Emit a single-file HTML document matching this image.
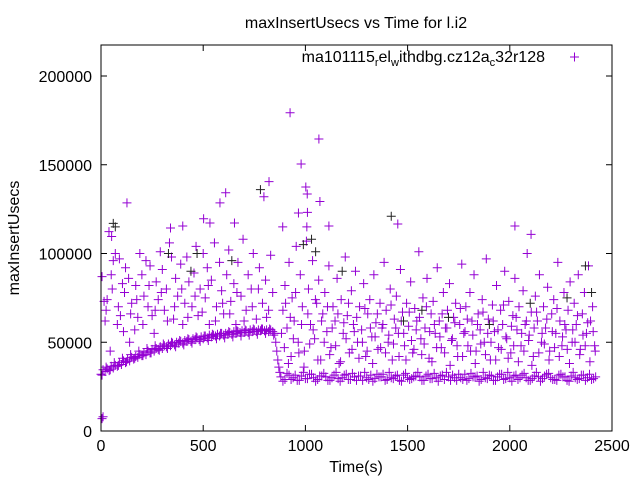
<!DOCTYPE html>
<html><head><meta charset="utf-8"><style>
html,body{margin:0;padding:0;background:#fff;}
svg text{font-family:"Liberation Sans",sans-serif;fill:#000;}
</style></head><body>
<svg id="chart" width="640" height="480" viewBox="0 0 640 480" xmlns="http://www.w3.org/2000/svg">
<rect width="640" height="480" fill="#fff"/>
<text x="356" y="28" font-size="16" text-anchor="middle">maxInsertUsecs vs Time for l.i2</text>
<g id="grid"></g>
<g id="marks"></g>
<rect x="101" y="45" width="511" height="386" fill="none" stroke="#000" stroke-width="1"/>
<text x="545" y="62" font-size="16" text-anchor="end">ma101115<tspan font-size="11" dy="4">r</tspan><tspan dy="-4">el</tspan><tspan font-size="11" dy="4">w</tspan><tspan dy="-4">ithdbg.cz12a</tspan><tspan font-size="11" dy="4">c</tspan><tspan dy="-4">32r128</tspan></text>
<g stroke="#9400d3" stroke-width="1"><line x1="570" y1="57" x2="579" y2="57"/><line x1="574.5" y1="52.5" x2="574.5" y2="61.5"/></g>
<text x="356" y="472" font-size="16" text-anchor="middle">Time(s)</text>
<text x="0" y="0" font-size="16" text-anchor="middle" transform="translate(19,238) rotate(-90)">maxInsertUsecs</text>
</svg>
<script>
const xTicks = [0, 500, 1000, 1500, 2000, 2500];
const yTicks = [0, 50000, 100000, 150000, 200000];
const rampTimes = [0,10,20,30,40,50,60,70,80,90,100,110,120,130,140,150,160,170,180,190,200,210,220,230,240,250,260,270,280,290,300,310,320,330,340,350,360,370,380,390,400,410,420,430,440,450,460,470,480,490,500,510,520,530,540,550,560,570,580,590,600,610,620,630,640,650,660,670,680,690,700,710,720,730,740,750,760,770,780,790,800,810,820,830,840,850,855,860,865,870,875];
const rampValues = [32000,34500,33500,35000,34000,36500,35500,37000,36500,38500,37500,39500,38500,40500,39500,41500,40500,42000,41500,43000,42500,44000,43000,45000,44000,46000,45000,46500,46000,47500,46500,48000,47500,49000,48000,49500,48500,50000,49500,50500,49500,51000,50500,51500,50500,52000,51500,52500,51500,53000,52000,53500,52500,54000,53000,54000,53500,54500,53500,55000,54000,55000,54500,55500,54500,56000,55000,56000,55500,56500,55500,56500,55500,57000,56000,57000,56000,57000,56500,57500,56500,57000,56000,57000,56000,55000,50000,45000,40000,36000,33000];
const ramp2Times = [5,25,45,65,85,105,125,145,165,185,205,225,245,265,285,305,325,345,365,385,405,425,445,465,485,505,525,545,565,585,605,625,645,665,685,705,725,745,765,785,805,825,845];
const ramp2Values = [31500,36000,34500,38500,37000,41000,39000,43000,41000,45000,42500,46500,44000,48000,45500,49000,46500,50000,47500,51000,48500,52000,49500,53000,50500,53500,51000,54500,52000,55000,52500,56000,53000,56500,53500,57000,54000,57500,54500,57500,55000,57500,54000];
const flatTimes = [880,900,920,940,960,980,1000,1020,1040,1060,1080,1100,1120,1140,1160,1180,1200,1220,1240,1260,1280,1300,1320,1340,1360,1380,1400,1420,1440,1460,1480,1500,1520,1540,1560,1580,1600,1620,1640,1660,1680,1700,1720,1740,1760,1780,1800,1820,1840,1860,1880,1900,1920,1940,1960,1980,2000,2020,2040,2060,2080,2100,2120,2140,2160,2180,2200,2220,2240,2260,2280,2300,2320,2340,2360,2380,2400,2420];
const flatValues = [30500,29000,31500,30000,28500,31000,29500,32000,30000,29000,31000,30500,28500,31500,29500,30000,32000,29000,30500,31000,28500,30000,31500,29500,30500,32000,29000,30000,31000,28500,31500,30000,29500,31000,30500,28500,32000,29500,30000,31000,29000,30500,31500,28500,30000,32000,29500,30500,31000,29000,30000,31500,28500,30500,32000,29500,30000,31000,29000,31500,30000,28500,31000,30500,29500,32000,30000,29000,31500,30500,28500,31000,30000,29500,31500,30000,29000,30500];
const flat2Times = [890,910,930,950,970,990,1010,1030,1050,1070,1090,1110,1130,1150,1170,1190,1210,1230,1250,1270,1290,1310,1330,1350,1370,1390,1410,1430,1450,1470,1490,1510,1530,1550,1570,1590,1610,1630,1650,1670,1690,1710,1730,1750,1770,1790,1810,1830,1850,1870,1890,1910,1930,1950,1970,1990,2010,2030,2050,2070,2090,2110,2130,2150,2170,2190,2210,2230,2250,2270,2290,2310,2330,2350,2370,2390,2410];
const flat2Values = [28000,32500,29000,31500,28500,33000,29500,32000,28000,31000,32500,28500,30000,33000,28000,31500,29000,32500,28500,31000,33000,29000,28000,32000,30500,28500,33000,29500,31500,28000,32500,29000,30500,33000,28500,31000,29500,32500,28000,31500,33000,28500,30000,32000,29000,28500,32500,30500,28000,33000,29500,31000,28500,32000,29000,33000,28000,31500,30000,32500,28500,29500,33000,28000,31000,32500,29000,28500,32000,30500,28000,33000,29000,31500,28500,32000,29500];
const scatterTimes = [5,10,925,1066,979,1002,1009,1071,822,797,610,582,127,39,52,502,533,653,400,340,966,1010,1007,1115,889,1452,2025,2104,
5,15,20,30,45,50,60,70,80,90,95,110,115,120,135,140,150,165,170,180,190,200,210,220,230,240,250,260,270,280,290,300,310,320,335,345,355,365,375,390,400,410,420,430,445,455,465,475,485,500,510,520,530,540,555,565,580,590,600,615,625,635,650,660,670,685,695,710,720,735,745,760,775,790,805,820,830,840,
890,900,910,920,930,935,945,955,965,975,985,995,1005,1015,1025,1035,1045,1055,1065,1075,1085,1095,1105,1115,1125,1135,1145,1155,1165,1175,1185,1195,1205,1215,1225,1235,1245,1255,1265,1275,1285,1295,1305,1315,1325,1335,1345,1355,1365,1375,1385,1395,1405,1415,1425,1435,1445,1455,1465,1475,1485,1495,1505,1515,1525,1535,1545,1555,1565,1575,1585,1595,1605,1615,1625,1635,1645,1655,1665,1675,1685,1695,1705,1715,1725,1735,1745,1755,1765,1775,1785,1795,1805,1815,1825,1835,1845,1855,1865,1875,1885,1895,1905,1915,1925,1935,1945,1955,1965,1975,1985,1995,2005,2015,2025,2035,2045,2055,2065,2075,2085,2095,2105,2115,2125,2135,2145,2155,2165,2175,2185,2195,2205,2215,2225,2235,2245,2255,2265,2275,2285,2295,2305,2315,2325,2335,2345,2355,2365,2375,2385,2395,2405,2415];
const scatterValues = [7000,8000,179300,164500,150400,137500,133500,129300,140500,132000,134200,128500,128500,112300,109600,119600,117200,117200,115500,114400,122800,123200,115000,115500,115000,116600,115500,110800,
87000,73000,62000,74000,45000,88000,96000,100000,60000,97000,65000,56000,78000,92000,86000,50000,72000,57000,82000,64000,100000,88000,76000,96000,70000,93000,65000,55000,84000,74000,101000,91000,68000,80000,106000,98000,63000,86000,76000,94000,60000,72000,98000,84000,70000,89000,104000,65000,80000,100000,75000,92000,60000,85000,106000,70000,95000,79000,66000,88000,102000,73000,83000,60000,95000,76000,108000,68000,88000,80000,100000,63000,92000,72000,85000,68000,99000,78000,
68000,82000,58000,95000,42000,75000,62000,104000,50000,88000,70000,45000,107000,80000,60000,96000,52000,72000,85000,40000,66000,78000,56000,93000,47000,70000,62000,86000,38000,74000,55000,98000,65000,44000,79000,60000,90000,50000,70000,57000,83000,42000,66000,74000,53000,88000,61000,46000,72000,58000,95000,68000,50000,80000,40000,63000,76000,55000,91000,67000,48000,72000,59000,84000,44000,69000,62000,101000,52000,75000,58000,86000,41000,66000,73000,55000,92000,62000,47000,78000,58000,68000,83000,51000,64000,72000,42000,60000,94000,55000,70000,48000,78000,62000,88000,45000,66000,57000,74000,50000,97000,63000,40000,71000,56000,82000,47000,68000,60000,90000,52000,73000,44000,65000,86000,57000,70000,48000,79000,60000,100000,54000,67000,42000,76000,62000,88000,50000,70000,58000,81000,45000,66000,74000,55000,95000,62000,48000,78000,57000,68000,84000,50000,72000,60000,88000,46000,66000,78000,55000,93000,62000,70000,48000];
const extraTimes = [25,55,85,105,145,175,205,235,265,295,325,360,395,425,460,495,525,560,595,630,665,700,740,770,810,
883,897,903,917,926,941,952,968,981,993,1012,1021,1038,1049,1061,1079,1092,1108,1119,1131,1148,1159,1172,1188,1199,1211,1228,1239,1251,1262,1279,1291,1302,1318,1329,1341,1352,1368,1379,1392,1408,1419,1431,1442,1458,1469,1481,1492,1508,1519,1531,1542,1558,1569,1581,1592,1608,1619,1631,1642,1658,1669,1681,1692,1708,1719,1731,1742,1758,1769,1781,1792,1808,1819,1831,1842,1858,1869,1881,1892,1908,1919,1931,1942,1958,1969,1981,1992,2008,2019,2031,2042,2058,2069,2081,2092,2108,2119,2131,2142,2158,2169,2181,2192,2208,2219,2231,2242,2258,2269,2281,2292,2308,2319,2331,2342,2358,2369,2381,2392,2408,2418];
const extraValues = [68000,80000,70000,83000,66000,74000,60000,82000,68000,78000,62000,70000,80000,64000,76000,67000,82000,62000,72000,66000,78000,62000,70000,80000,64000,
55000,47000,72000,38000,64000,52000,78000,44000,60000,36000,66000,49000,57000,74000,40000,62000,50000,70000,43000,58000,48000,66000,39000,61000,52000,72000,46000,56000,64000,41000,50000,69000,45000,58000,38000,53000,66000,47000,60000,44000,54000,71000,49000,58000,42000,62000,55000,40000,67000,51000,46000,57000,64000,43000,49000,70000,56000,39000,60000,47000,53000,66000,44000,58000,37000,52000,61000,48000,69000,42000,56000,63000,45000,54000,38000,60000,49000,67000,43000,55000,50000,62000,40000,57000,46000,71000,53000,41000,59000,48000,64000,39000,55000,45000,62000,51000,37000,58000,67000,44000,55000,49000,63000,40000,56000,47000,69000,42000,53000,60000,46000,38000,57000,50000,65000,43000,54000,48000,61000,39000,56000,45000];
const blackTimes = [60,70,330,440,470,640,780,990,1030,1050,1180,1420,1480,1570,1700,1900,2100,2280,2370,2400];
const blackValues = [117000,115000,100000,90000,100000,96000,136000,105000,108000,101000,90000,121000,62000,68000,64000,60000,72000,75000,93000,78000];

const X0 = 101, X1 = 612, Y0 = 431, Y1 = 76;
function xScale(t){ return X0 + (t / 2500) * (X1 - X0); }
function yScale(v){ return Y0 - (v / 200000) * (Y0 - Y1); }
const NS = 'http://www.w3.org/2000/svg';
const grid = document.getElementById('grid');
const marks = document.getElementById('marks');
function mk(tag, attrs, parent){
  const el = document.createElementNS(NS, tag);
  for (const k in attrs) el.setAttribute(k, attrs[k]);
  parent.appendChild(el);
  return el;
}
xTicks.forEach(function(t){
  const x = xScale(t);
  const g = mk('g', {}, grid);
  
  
  mk('line', {x1:x, y1:Y0, x2:x, y2:Y0-6, stroke:'#000'}, g);
  mk('line', {x1:x, y1:45, x2:x, y2:51, stroke:'#000'}, g);
  const tx = mk('text', {x:x, y:Y0+20, 'font-size':16, 'text-anchor':'middle'}, g);
  tx.textContent = t;
});
yTicks.forEach(function(v){
  const y = yScale(v);
  const g = mk('g', {}, grid);
  
  
  mk('line', {x1:X0, y1:y, x2:X0+6, y2:y, stroke:'#000'}, g);
  mk('line', {x1:X1, y1:y, x2:X1-6, y2:y, stroke:'#000'}, g);
  const tx = mk('text', {x:92, y:y+6, 'font-size':16, 'text-anchor':'end'}, g);
  tx.textContent = v;
});
function plus(t, v, color){
  const x = xScale(t), y = yScale(v);
  const p = mk('path', {d:'M'+(x-4.5)+' '+y+'H'+(x+4.5)+'M'+x+' '+(y-4.5)+'V'+(y+4.5), stroke:color, 'stroke-width':1, fill:'none'}, marks);
  
  
}
scatterTimes.forEach(function(t,i){ plus(t, scatterValues[i], '#9400d3'); });
extraTimes.forEach(function(t,i){ plus(t, extraValues[i], '#9400d3'); });
blackTimes.forEach(function(t,i){ plus(t, blackValues[i], '#222'); });
rampTimes.forEach(function(t,i){ plus(t, rampValues[i], '#9400d3'); });
ramp2Times.forEach(function(t,i){ plus(t, ramp2Values[i], '#9400d3'); });
flatTimes.forEach(function(t,i){ plus(t, flatValues[i], '#9400d3'); });
flat2Times.forEach(function(t,i){ plus(t, flat2Values[i], '#9400d3'); });
</script>
</body></html>
